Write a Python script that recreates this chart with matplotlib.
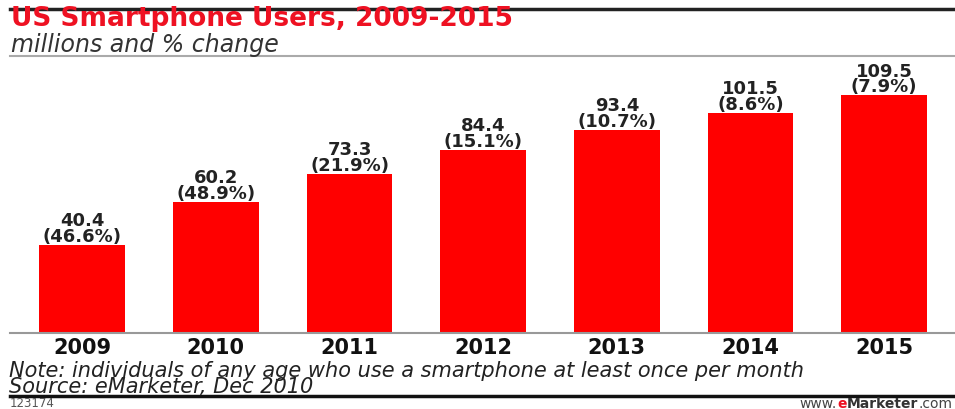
import matplotlib
matplotlib.use("Agg")
import matplotlib.pyplot as plt
from matplotlib.lines import Line2D

years = ['2009', '2010', '2011', '2012', '2013', '2014', '2015']
users = [40.4, 60.2, 73.3, 84.4, 93.4, 101.5, 109.5]
change = ['46.6%', '48.9%', '21.9%', '15.1%', '10.7%', '8.6%', '7.9%']

W, H = 955, 410
fig = plt.figure(figsize=(W / 100, H / 100), dpi=100)

def fy(px):
    return 1 - px / H

ax = fig.add_axes([10 / W, fy(334), 1 - 10 / W, fy(60) - fy(334)])
x = range(len(years))
bars = ax.bar(x, users, width=0.64, color='#ff0000')
ax.set_xlim(-0.54, 6.53)
ax.set_ylim(0, 126.3)

for rect, v, c in zip(bars, users, change):
    ax.annotate('{}\n({})'.format(v, c),
                xy=(rect.get_x() + rect.get_width() / 2, v),
                xytext=(0, 0), textcoords='offset points',
                ha='center', va='bottom', fontsize=13, fontweight='bold',
                color='#222222', linespacing=0.85)

ax.set_xticks(list(x))
ax.set_xticklabels(years, fontsize=15, fontweight='bold', color='#111111')
ax.tick_params(axis='x', length=0, pad=3)
ax.set_yticks([])
for s in ['top', 'left', 'right']:
    ax.spines[s].set_visible(False)
ax.spines['bottom'].set_color('#999999')
ax.spines['bottom'].set_linewidth(1.5)

# header / footer rules
fig.add_artist(Line2D([10 / W, 1], [fy(10), fy(10)], color='#222222', lw=2.5))
fig.add_artist(Line2D([10 / W, 1], [fy(57), fy(57)], color='#aaaaaa', lw=1.5))
fig.add_artist(Line2D([10 / W, 1], [fy(397), fy(397)], color='#111111', lw=2.5))

fig.text(11 / W, fy(19), 'US Smartphone Users, 2009-2015', color='#ee1122',
         fontsize=19, fontweight='bold', va='center')
fig.text(11 / W, fy(45), 'millions and % change', color='#333333',
         fontsize=17, style='italic', va='center')
fig.text(9 / W, fy(379),
         'Note: individuals of any age who use a smartphone at least once per month\n'
         'Source: eMarketer, Dec 2010',
         color='#222222', fontsize=15, style='italic', va='center', linespacing=0.8)
fig.text(10 / W, fy(404), '123174', color='#555555', fontsize=8.5, va='center')

# www.eMarketer.com, built right to left
last = fig.text(952 / W, fy(408), '.com', color='#444444', fontsize=10,
                ha='right', va='baseline')
for piece, col, wt in [('Marketer', '#333333', 'bold'), ('e', '#ee1122', 'bold'),
                       ('www.', '#444444', 'normal')]:
    last = fig.add_artist(plt.Annotation(piece, xy=(0, 0), xycoords=last,
                                         ha='right', va='bottom', color=col,
                                         fontsize=10, fontweight=wt))

fig.savefig('out.png', dpi=100)
